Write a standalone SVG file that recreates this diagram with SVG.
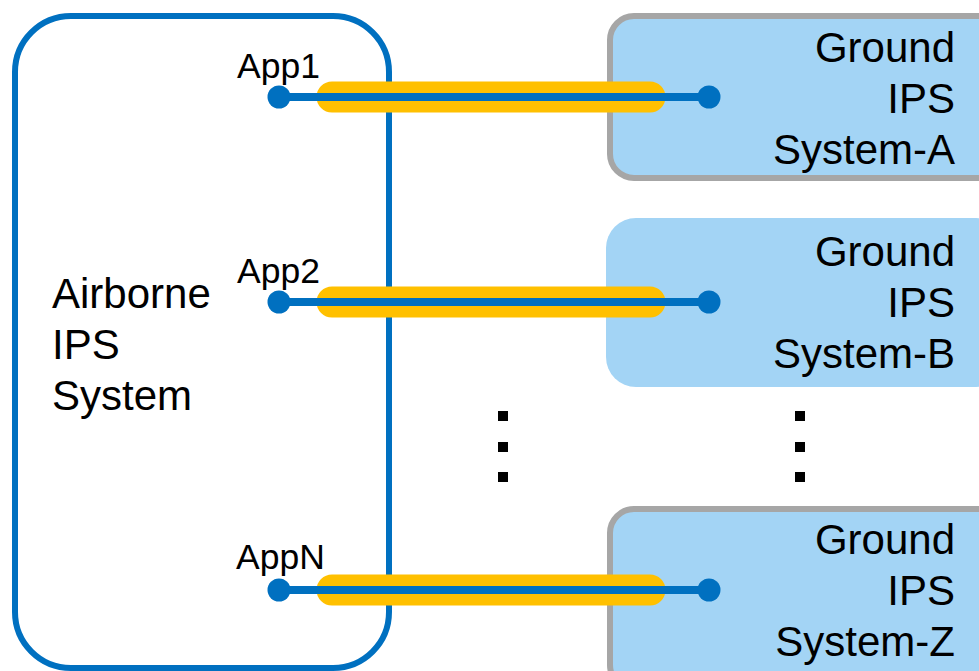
<svg xmlns="http://www.w3.org/2000/svg" width="979" height="671" viewBox="0 0 979 671">
<style>
.big{font-family:"Liberation Sans",Arial,sans-serif;font-size:42px;fill:#000}
.app{font-family:"Liberation Sans",Arial,sans-serif;font-size:35.5px;fill:#000}
.r{text-anchor:end}
.gnd{fill:#a3d4f5;stroke:#a6a6a6;stroke-width:6}
.band{stroke:#ffc000;stroke-width:31;stroke-linecap:round;fill:none}
.wire{stroke:#0070c0;stroke-width:8;fill:none}
.dot{fill:#0070c0}
.sq{fill:#000}
</style>
<rect width="979" height="671" fill="#fff"/>
<g id="airborne">
<rect x="15" y="16" width="374" height="652" rx="56" fill="#fff" stroke="#0070c0" stroke-width="6"/>
<text class="big" x="52" y="308">Airborne</text>
<text class="big" x="52" y="359">IPS</text>
<text class="big" x="52" y="410">System</text>
</g>
<g id="groundA">
<rect class="gnd" x="610" y="16" width="400" height="162" rx="24"/>
<text class="big r" x="955" y="62">Ground</text>
<text class="big r" x="955" y="113">IPS</text>
<text class="big r" x="955" y="164">System-A</text>
</g>
<g id="groundB">
<rect x="606" y="218" width="400" height="169" rx="30" fill="#a3d4f5"/>
<text class="big r" x="955" y="266">Ground</text>
<text class="big r" x="955" y="317">IPS</text>
<text class="big r" x="955" y="368">System-B</text>
</g>
<g id="groundZ">
<rect class="gnd" x="610" y="509" width="400" height="180" rx="24"/>
<text class="big r" x="955" y="554">Ground</text>
<text class="big r" x="955" y="605">IPS</text>
<text class="big r" x="955" y="656">System-Z</text>
</g>
<g id="connectors">
<line class="band" x1="332" y1="97" x2="650" y2="97"/>
<line class="wire" x1="279" y1="97" x2="709" y2="97"/>
<circle class="dot" cx="279" cy="97" r="11.5"/>
<circle class="dot" cx="709" cy="97" r="11.5"/>
<line class="band" x1="332" y1="302" x2="650" y2="302"/>
<line class="wire" x1="279" y1="302" x2="709" y2="302"/>
<circle class="dot" cx="279" cy="302" r="11.5"/>
<circle class="dot" cx="709" cy="302" r="11.5"/>
<line class="band" x1="332" y1="590" x2="650" y2="590"/>
<line class="wire" x1="279" y1="590" x2="709" y2="590"/>
<circle class="dot" cx="279" cy="590" r="11.5"/>
<circle class="dot" cx="709" cy="590" r="11.5"/>
</g>
<g id="labels">
<text class="app" x="237" y="78">App1</text>
<text class="app" x="237" y="283">App2</text>
<text class="app" x="236" y="569">AppN</text>
</g>
<g id="ellipsis">
<rect class="sq" x="498" y="411" width="10" height="10"/>
<rect class="sq" x="498" y="442" width="10" height="10"/>
<rect class="sq" x="498" y="472" width="10" height="10"/>
<rect class="sq" x="795" y="411" width="10" height="10"/>
<rect class="sq" x="795" y="442" width="10" height="10"/>
<rect class="sq" x="795" y="472" width="10" height="10"/>
</g>
</svg>
